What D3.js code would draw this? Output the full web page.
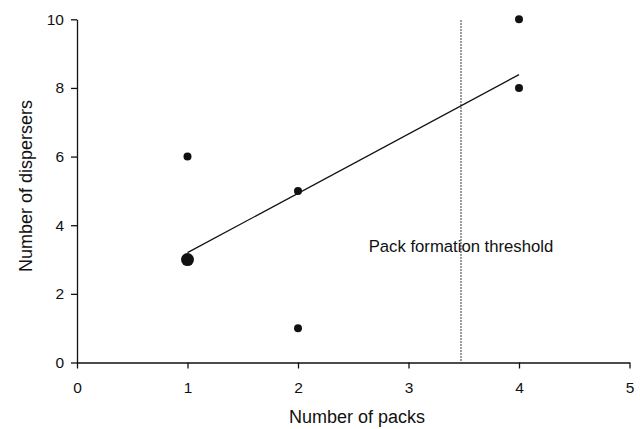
<!DOCTYPE html>
<html>
<head>
	<title>Dispersers vs packs</title>
	<script src="https://d3js.org/d3.v7.min.js"></script>
	<style>
		body { margin: 0; background: white; }
		text { font-family: "Liberation Sans", Arial, sans-serif; fill: #111; }
		.axis path, .axis line { stroke: #111; stroke-width: 1.3; }
		.axis text { font-size: 15.5px; font-family: "Liberation Sans", Arial, sans-serif; }
	</style>
</head>
<body>
<svg width="640" height="429"></svg>

<script type="text/javascript">
// observed points: packs, dispersers, size (big dot = several overlapping)
var packs = [1, 1, 2, 2, 4, 4];
var dispersers = [6, 3, 5, 1, 10, 8];
var dotSize = [4, 6.5, 4, 4, 4, 4];
// fitted line end points
var fitX = [1, 4];
var fitY = [3.2, 8.39];
var threshold = 3.475;
var xTicks = [0, 1, 2, 3, 4, 5];
var yTicks = [0, 2, 4, 6, 8, 10];

var svg = d3.select('svg');
var x = d3.scaleLinear().domain([0, 5]).range([77, 629.5]);
var y = d3.scaleLinear().domain([0, 10]).range([362.5, 19.3]);

svg.append('g')
	.attr('class', 'axis')
	.attr('transform', 'translate(0,' + y(0) + ')')
	.call(d3.axisBottom(x).tickValues(xTicks).tickFormat(d3.format('d'))
		.tickSize(6).tickPadding(13).tickSizeOuter(0));

svg.append('g')
	.attr('class', 'axis')
	.attr('transform', 'translate(' + x(0) + ',0)')
	.call(d3.axisLeft(y).tickValues(yTicks).tickFormat(d3.format('d'))
		.tickSize(6).tickPadding(7).tickSizeOuter(0));

svg.selectAll('.axis .domain').attr('stroke-width', 1.5);

// threshold
svg.append('line')
	.attr('x1', x(threshold)).attr('x2', x(threshold))
	.attr('y1', y(10) + 1).attr('y2', y(0))
	.attr('stroke', '#222')
	.attr('stroke-width', 1.2)
	.attr('stroke-dasharray', '1.5,1.5');

svg.append('text')
	.attr('x', x(threshold))
	.attr('y', 252)
	.attr('text-anchor', 'middle')
	.style('font-size', '16.7px')
	.text('Pack formation threshold');

// fit line
svg.append('line')
	.attr('x1', x(fitX[0])).attr('y1', y(fitY[0]))
	.attr('x2', x(fitX[1])).attr('y2', y(fitY[1]))
	.attr('stroke', '#111')
	.attr('stroke-width', 1.3);

svg.selectAll('circle.pt')
	.data(packs)
	.enter()
	.append('circle')
	.attr('class', 'pt')
	.attr('cx', function(d) { return x(d); })
	.attr('cy', function(d, i) { return y(dispersers[i]); })
	.attr('r', function(d, i) { return dotSize[i]; })
	.attr('fill', '#111');

svg.append('text')
	.attr('x', 357)
	.attr('y', 423)
	.attr('text-anchor', 'middle')
	.style('font-size', '18px')
	.text('Number of packs');

svg.append('text')
	.attr('transform', 'translate(32,186) rotate(-90)')
	.attr('text-anchor', 'middle')
	.style('font-size', '18px')
	.text('Number of dispersers');
</script>
</body>
</html>
